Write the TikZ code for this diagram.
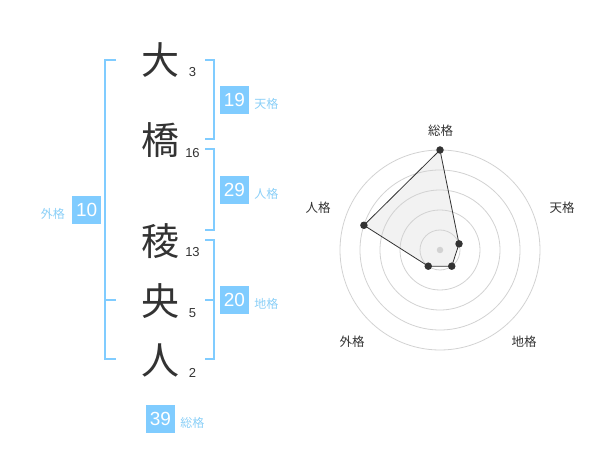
\documentclass[tikz,border=0pt]{standalone}
\usepackage{fontspec}
\setmainfont{Liberation Sans}
\newfontfamily\jpfont{Noto Sans CJK JP}
\usepackage{tikz}
\usetikzlibrary{positioning}
\definecolor{kakublue}{HTML}{80CCFF}
\definecolor{kakutext}{HTML}{8ACFF7}
\definecolor{ink}{HTML}{333333}
\definecolor{ringgray}{HTML}{D2D2D2}
\definecolor{areafill}{HTML}{F2F2F2}

\begin{document}
\begin{tikzpicture}[x=1pt, y=-1pt, node distance=32.5pt,
        kanji/.style={font=\jpfont\fontsize{38}{38}\selectfont, text=ink, inner sep=0pt},
        strokes/.style={font=\fontsize{13}{13}\selectfont, text=ink, inner sep=0pt},
        kakubox/.style={fill=kakublue, text=white, font=\fontsize{19}{19}\selectfont, minimum width=29pt, minimum height=28pt, inner sep=0pt},
        kakulabel/.style={font=\jpfont\fontsize{12}{12}\selectfont, text=kakutext, inner sep=0pt},
        bracket/.style={draw=kakublue, line width=2pt},
        axislabel/.style={font=\jpfont\fontsize{12.5}{12.5}\selectfont, text=ink, inner sep=0pt},
        ring/.style={draw=ringgray, line width=0.8pt},
        dot/.style={circle, fill=ink, inner sep=0pt, minimum size=7.5pt}]
        \useasboundingbox (0,0) rectangle (600,470);

        % name
        \node[kanji] (k1) at (160,60) {大};
        \node[kanji] (k2) at (160,140) {橋};
        \node[kanji] (k3) at (160,241) {稜};
        \node[kanji] (k4) at (160,301) {央};
        \node[kanji] (k5) at (160,360) {人};

        \node[strokes] (n1) [right of=k1, yshift=-12.5pt] {3};
        \node[strokes] (n2) [right of=k2, yshift=-13pt] {16};
        \node[strokes] (n3) [right of=k3, yshift=-11.5pt] {13};
        \node[strokes] (n4) [right of=k4, yshift=-12pt] {5};
        \node[strokes] (n5) [right of=k5, yshift=-13pt] {2};

        % brackets
        \coordinate (tenTop) at (214,60);
        \coordinate (tenBot) at (214,139);
        \coordinate (jinTop) at (214,149);
        \coordinate (jinBot) at (214,230);
        \coordinate (chiTop) at (214,240);
        \coordinate (chiMid) at (214,300);
        \coordinate (chiBot) at (214,359);
        \coordinate (gaiTop) at (105,60);
        \coordinate (gaiMid) at (105,300);
        \coordinate (gaiBot) at (105,359);

        \draw[bracket] ([xshift=-9pt]tenTop) -- (tenTop) -- (tenBot) -- ([xshift=-9pt]tenBot);
        \draw[bracket] ([xshift=-9pt]jinTop) -- (jinTop) -- (jinBot) -- ([xshift=-9pt]jinBot);
        \draw[bracket] ([xshift=-9pt]chiTop) -- (chiTop) -- (chiBot) -- ([xshift=-9pt]chiBot);
        \draw[bracket] ([xshift=-9pt]chiMid) -- (chiMid);
        \draw[bracket] ([xshift=11pt]gaiTop) -- (gaiTop) -- (gaiBot) -- ([xshift=11pt]gaiBot);
        \draw[bracket] (gaiMid) -- ([xshift=11pt]gaiMid);

        % kaku
        \node[kakubox] (ten) at (234.5,100) {19};
        \node[kakubox] (jin) at (234.5,190) {29};
        \node[kakubox] (chi) at (234.5,300) {20};
        \node[kakubox] (gai) at (86.7,210) {10};
        \node[kakubox] (sou) at (160.5,419) {39};

        \node[kakulabel] (tenL) [right=5pt of ten, yshift=-4pt] {天格};
        \node[kakulabel] (jinL) [right=5pt of jin, yshift=-4pt] {人格};
        \node[kakulabel] (chiL) [right=5pt of chi, yshift=-4pt] {地格};
        \node[kakulabel] (gaiL) [left=7pt of gai, yshift=-4pt] {外格};
        \node[kakulabel] (souL) [right=5pt of sou, yshift=-4pt] {総格};

        % radar
        \begin{scope}[shift={(440,250)}, yscale=-1]
            \coordinate (pSou) at (90:100);
            \coordinate (pTen) at (18:20);
            \coordinate (pChi) at (-54:20);
            \coordinate (pGai) at (234:20);
            \coordinate (pJin) at (162:80);

            \fill[areafill] (pSou) -- (pTen) -- (pChi) -- (pGai) -- (pJin) -- cycle;
            \foreach \r in {20,40,60,80,100}
                \draw[ring] (0,0) circle (\r);
            \node[circle, fill=ringgray, inner sep=0pt, minimum size=6.5pt] (center) at (0,0) {};
            \draw[ink, line width=0.8pt] (pSou) -- (pTen) -- (pChi) -- (pGai) -- (pJin) -- cycle;
            \foreach \p in {pSou,pTen,pChi,pGai,pJin}
                \node[dot] at (\p) {};

            \node[axislabel] (aSou) at (0.7,119.3) {総格};
            \node[axislabel] (aTen) at (122,42) {天格};
            \node[axislabel] (aJin) at (-122,42) {人格};
            \node[axislabel] (aGai) at (-88,-92) {外格};
            \node[axislabel] (aChi) at (84,-92) {地格};
        \end{scope}
\end{tikzpicture}
\end{document}
